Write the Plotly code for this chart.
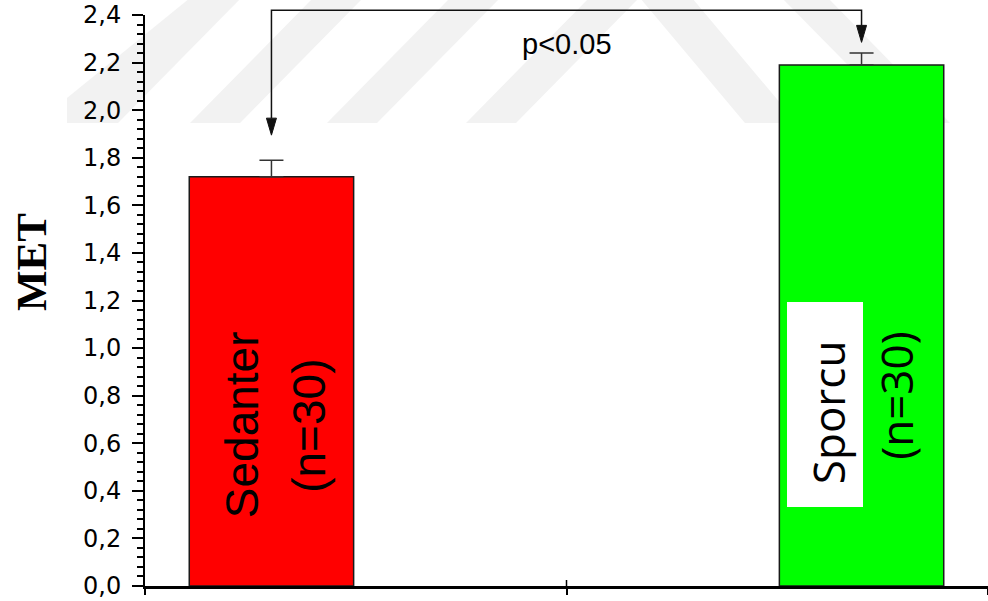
import plotly.graph_objects as go

# ---------------- data ----------------
groups = ["Sedanter", "Sporcu"]
n_labels = ["(n=30)", "(n=30)"]
x_pos = [0.3, 1.7]
means = [1.72, 2.19]
errors = [0.07, 0.05]
colors = ["#ff0000", "#00ff00"]
y_tick_vals = [0.0, 0.2, 0.4, 0.6, 0.8, 1.0, 1.2, 1.4, 1.6, 1.8, 2.0, 2.2, 2.4]
y_tick_text = [f"{v:.1f}".replace(".", ",") for v in y_tick_vals]
p_text = "p<0.05"
bracket_y = 2.42          # height of the significance bracket (data units)
arrow_tips = [1.895, 2.285]

# ---------------- geometry ----------------
W, H = 988, 601
ML, MR, MT, MB = 145, 0, 15, 15
PW, PH = W - ML - MR, H - MT - MB
XMAX, YMAX = 2.0, 2.4
bar_width = 0.39


def px2paper(px, py):
    return (px - ML) / PW, (H - MB - py) / PH


def xd2p(x):
    return x / XMAX


def yd2p(y):
    return y / YMAX


fig = go.Figure()

fig.add_trace(go.Bar(
    x=x_pos, y=means, width=bar_width,
    marker=dict(color=colors, line=dict(color="#1a1a1a", width=1.5)),
    error_y=dict(type="data", symmetric=False, array=errors, arrayminus=[0, 0],
                 color="#333333", thickness=1.5, width=12),
    showlegend=False, hoverinfo="skip",
))

shapes = []

# faint watermark stripes (pixel polygons -> paper)
wm_color = "#f2f2f2"
stripes = []
for x0 in [190, 327, 466]:
    stripes.append([(x0, 123), (x0 + 50, 123), (x0 + 50 + 123, -2), (x0 + 123, -2)])
stripes.append([(67, 123), (118, 123), (241, -2), (190, -2), (67, 98)])
stripes.append([(745, 123), (797, 123), (692, -2), (640, -2)])
stripes.append([(905, 123), (950, 123), (828, -2), (782, -2)])
for poly in stripes:
    pts = [px2paper(a, b) for a, b in poly]
    path = "M " + " L ".join(f"{a:.4f},{b:.4f}" for a, b in pts) + " Z"
    shapes.append(dict(type="path", path=path, xref="paper", yref="paper",
                       fillcolor=wm_color, line=dict(width=0), layer="below"))

# white box behind "Sporcu"
bx0, by0 = px2paper(787, 507)
bx1, by1 = px2paper(863, 302)
shapes.append(dict(type="rect", xref="paper", yref="paper", x0=bx0, x1=bx1,
                   y0=by0, y1=by1, fillcolor="white", line=dict(width=0), layer="above"))

# significance bracket with arrow heads
head_len = 17 / PH
head_half = 5 / PW
xl, xr = xd2p(x_pos[0]), xd2p(x_pos[1])
yb = yd2p(bracket_y)
tl, tr = yd2p(arrow_tips[0]), yd2p(arrow_tips[1])
shapes.append(dict(type="path", xref="paper", yref="paper",
                   path=f"M {xl},{tl + head_len} L {xl},{yb} L {xr},{yb} L {xr},{tr + head_len}",
                   line=dict(color="#111111", width=1.5)))
for xa, ta in [(xl, tl), (xr, tr)]:
    shapes.append(dict(type="path", xref="paper", yref="paper",
                       path=f"M {xa},{ta} L {xa - head_half},{ta + head_len} L {xa + head_half},{ta + head_len} Z",
                       fillcolor="#111111", line=dict(color="#111111", width=1)))

# inner half of the middle x tick
shapes.append(dict(type="line", xref="x", yref="paper", x0=1, x1=1, y0=0, y1=6 / PH,
                   line=dict(color="black", width=1.5)))

annotations = []
# bar labels
red_font = dict(family="Liberation Sans, Arial", size=46, color="black")
green_font = dict(family="Open Sans, Noto Sans", size=44, color="black")
annotations.append(dict(x=x_pos[0] - 0.07, y=0.68, xref="x", yref="y", text=groups[0],
                        textangle=-90, showarrow=False, font=red_font))
annotations.append(dict(x=x_pos[0] + 0.09, y=0.675, xref="x", yref="y", text=n_labels[0],
                        textangle=-90, showarrow=False, font=red_font))
annotations.append(dict(x=x_pos[1] - 0.08, y=0.73, xref="x", yref="y", text=groups[1],
                        textangle=-90, showarrow=False, font=green_font))
annotations.append(dict(x=x_pos[1] + 0.082, y=0.80, xref="x", yref="y", text=n_labels[1],
                        textangle=-90, showarrow=False, font=green_font))
# p value
annotations.append(dict(x=1.0, y=2.28, xref="x", yref="y", text=p_text, showarrow=False,
                        font=dict(family="Liberation Sans, Arial", size=29, color="black")))
# y title
tx, ty = px2paper(31, 262)
annotations.append(dict(x=tx, y=ty, xref="paper", yref="paper", text="<b>MET</b>",
                        xanchor="center", yanchor="middle",
                        textangle=-90, showarrow=False,
                        font=dict(family="Liberation Serif, Times New Roman", size=43, color="black")))

fig.update_layout(
    width=W, height=H,
    margin=dict(l=ML, r=MR, t=MT, b=MB, pad=0),
    paper_bgcolor="white", plot_bgcolor="rgba(0,0,0,0)",
    shapes=shapes, annotations=annotations,
    xaxis=dict(range=[0, XMAX], tickmode="array", tickvals=[0, 1, 2], showticklabels=False,
               ticks="outside", ticklen=6, tickwidth=1.5, tickcolor="black",
               showline=True, linecolor="black", linewidth=2.5,
               showgrid=False, zeroline=False, fixedrange=True),
    yaxis=dict(range=[0, YMAX], tickmode="array", tickvals=y_tick_vals, ticktext=y_tick_text,
               ticks="outside", ticklen=11, tickwidth=1.5, tickcolor="black",
               minor=dict(tick0=0, dtick=0.04, ticks="outside", ticklen=6, tickwidth=1.5,
                          tickcolor="black"),
               showline=True, linecolor="black", linewidth=2,
               tickfont=dict(family="DejaVu Sans", size=24, color="black"),
               ticklabelstandoff=6,
               showgrid=False, zeroline=False, fixedrange=True),
)

fig.write_html("out.html", config={"displayModeBar": False},
               post_script="document.body.style.margin='0';document.body.style.overflow='hidden';")
